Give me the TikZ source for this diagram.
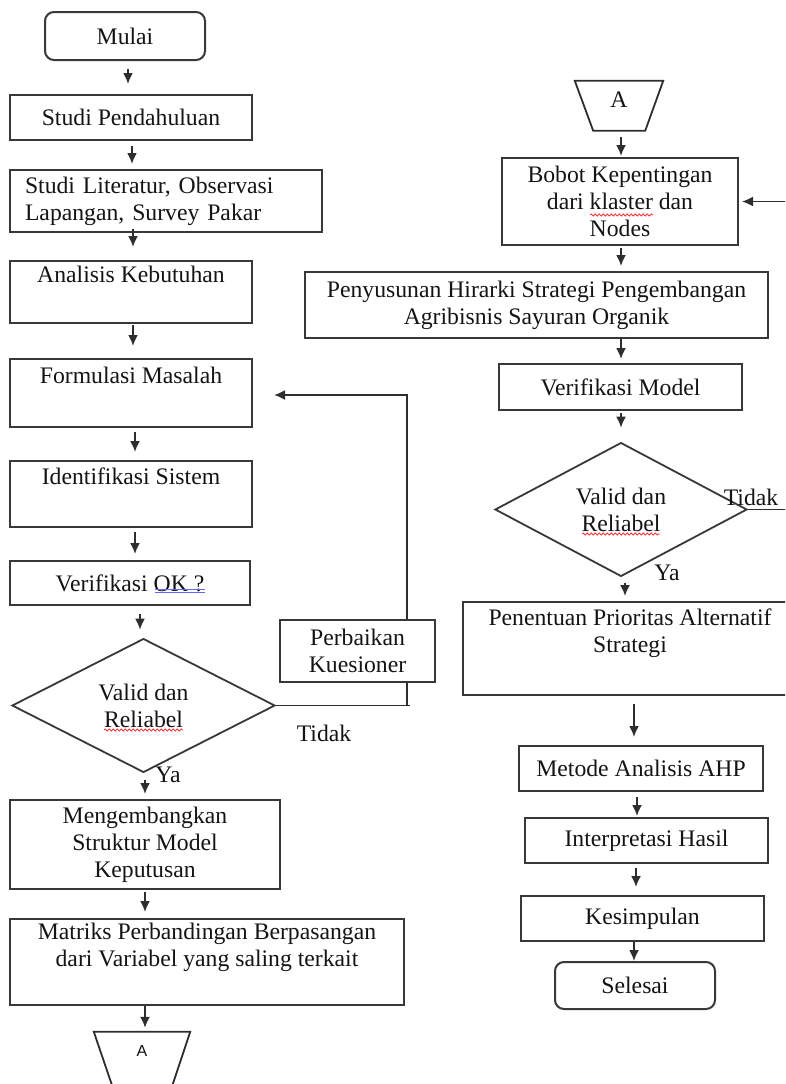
\documentclass[tikz,border=0pt]{standalone}
\usepackage{fontspec}
\setmainfont{Liberation Serif}
\newfontfamily\sansA{Liberation Sans}
\usetikzlibrary{shapes.geometric,arrows.meta,decorations.pathmorphing}
\begin{document}
\begin{tikzpicture}[x=1pt,y=-1pt,
 every node/.style={font=\fontsize{23.7}{27}\selectfont, text=black!92},
 box/.style={draw=black!78, line width=2pt, inner sep=0pt, align=center},
 rbox/.style={box, rounded corners=9pt},
 dia/.style={draw=black!78, line width=1.8pt, diamond, inner sep=0pt, align=center},
 arr/.style={draw=black!82, line width=1.8pt, -{Latex[length=11pt,width=10pt]}},
 ln/.style={draw=black!82, line width=1.8pt},
 lbl/.style={inner sep=0pt},
 wavy/.style={draw=red!80, line width=0.8pt, decorate, decoration={snake, amplitude=1pt, segment length=4pt}},
 dbl/.style={draw=blue!60, line width=0.8pt},
]
\useasboundingbox (0,0) rectangle (785,1084);
\clip (0,0) rectangle (785,1084);

% left column
\node[rbox, minimum width=160, minimum height=48] (mulai) at (125,36) {Mulai};
\node[box, minimum width=242, minimum height=45] (sp) at (131,117.5) {Studi Pendahuluan};
\node[box, minimum width=312, minimum height=62, text width=282, align=left, inner xsep=15pt] (sl) at (166,201) {Studi Literatur, Observasi\\Lapangan, Survey Pakar};
\node[box, minimum width=242, minimum height=62] (ak) at (131,292) {Analisis Kebutuhan\\\strut};
\node[box, minimum width=242, minimum height=68] (fm) at (131,393) {Formulasi Masalah\\\strut};
\node[box, minimum width=242, minimum height=66] (is) at (131,494) {Identifikasi Sistem\\\strut};
\node[box, minimum width=240, minimum height=44] (vok) at (130,583) {Verifikasi OK ?};
\node[dia, minimum width=263, minimum height=125] (d1) at (143.5,705.5) {Valid dan\\Reliabel};
\node[box, minimum width=155, minimum height=62] (pk) at (357.5,651) {Perbaikan\\Kuesioner};
\node[box, minimum width=270, minimum height=89] (mg) at (145,844.5) {Mengembangkan\\Struktur Model\\Keputusan};
\node[box, minimum width=394, minimum height=86] (mt) at (207,962) {Matriks Perbandingan Berpasangan\\dari Variabel yang saling terkait\\\strut};
\node[inner sep=0pt, minimum width=96, minimum height=38, font=\sansA\fontsize{16}{18}\selectfont] (A1) at (142,1051) {A};
\draw[ln] (A1.north west) -- (A1.north east) -- ++(-18,54) -- ++(-60,0) -- cycle;

% right column
\node[inner sep=0pt, minimum width=88, minimum height=38] (A2) at (619,100) {A};
\draw[ln] (A2.north west) -- (A2.north east) -- ++(-18,50) -- ++(-52,0) -- cycle;
\node[box, minimum width=236, minimum height=87] (bb) at (620,201.5) {Bobot Kepentingan\\dari klaster dan\\Nodes};
\node[box, minimum width=463, minimum height=66] (py) at (536.5,305) {Penyusunan Hirarki Strategi Pengembangan\\Agribisnis Sayuran Organik};
\node[box, minimum width=243, minimum height=46] (vm) at (620.5,387) {Verifikasi Model};
\node[dia, minimum width=252, minimum height=125] (d2) at (621,509.5) {Valid dan\\Reliabel};
\node[box, minimum width=334, minimum height=93] (pn) at (630,648.5) {Penentuan Prioritas Alternatif\\Strategi\\\strut};
\node[box, minimum width=244, minimum height=45] (ma) at (641,768.5) {Metode Analisis AHP};
\node[box, minimum width=243, minimum height=45] (ih) at (646.5,840.5) {Interpretasi Hasil};
\node[box, minimum width=243, minimum height=45] (ks) at (642.5,918.5) {Kesimpulan};
\node[rbox, minimum width=160, minimum height=47] (sel) at (635,985.5) {Selesai};

% labels
\node[lbl] (t1) at (324,733) {Tidak};
\node[lbl] (y1) at (168,775) {Ya};
\node[lbl] (t2) at (751,497) {Tidak};
\node[lbl] (y2) at (667,573) {Ya};

% left arrows
\draw[arr, shorten <=8pt, shorten >=10pt] ([xshift=3]mulai.south) -- ([xshift=3]mulai.south |- sp.north);
\draw[arr, shorten <=5pt, shorten >=5pt] ([xshift=1]sp.south) -- ([xshift=1]sp.south |- sl.north);
\draw[arr, shorten <=-4pt, shorten >=13pt] ([xshift=-33]sl.south) -- ([xshift=-33]sl.south |- ak.north);
\draw[arr, shorten <=1pt, shorten >=12pt] ([xshift=2]ak.south) -- ([xshift=2]ak.south |- fm.north);
\draw[arr, shorten <=4pt, shorten >=8pt] ([xshift=4]fm.south) -- ([xshift=4]fm.south |- is.north);
\draw[arr, shorten <=4pt, shorten >=6pt] ([xshift=4]is.south) -- ([xshift=4]is.south |- vok.north);
\draw[arr, shorten <=8pt, shorten >=8pt] ([xshift=10]vok.south) -- ([xshift=10]vok.south |- d1.north);
\draw[arr, shorten <=7pt, shorten >=5pt] ([xshift=1.5]d1.south) -- ([xshift=1.5]d1.south |- mg.north);
\draw[arr, shorten <=2pt, shorten >=6pt] (mg.south) -- (mg.south |- mt.north);
\draw[arr, shorten >=4pt] ([xshift=-62]mt.south) -- ([xshift=-62]mt.south |- A1.north);

% right arrows
\draw[arr, shorten >=1pt] ([xshift=2,yshift=-56]A2.north) -- ([xshift=2]A2.north |- bb.north);
\draw[arr, shorten <=2pt, shorten >=5pt] ([xshift=1]bb.south) -- ([xshift=1]bb.south |- py.north);
\draw[arr, shorten >=4pt] ([xshift=84.5]py.south) -- ([xshift=84.5]py.south |- vm.north);
\draw[arr, shorten <=2pt, shorten >=14pt] ([xshift=0.5]vm.south) -- ([xshift=0.5]vm.south |- d2.north);
\draw[arr, shorten <=6pt, shorten >=5pt] ([xshift=4]d2.south) -- ([xshift=4]d2.south |- pn.north);
\draw[arr, shorten <=8pt, shorten >=8pt] ([xshift=4]pn.south) -- ([xshift=4]pn.south |- ma.north);
\draw[arr, shorten <=5pt, shorten >=1pt] ([xshift=-4]ma.south) -- ([xshift=-4]ma.south |- ih.north);
\draw[arr, shorten <=4pt, shorten >=8pt] ([xshift=-10.5]ih.south) -- ([xshift=-10.5]ih.south |- ks.north);
\draw[arr] ([xshift=-8.5]ks.south) -- ([xshift=-8.5]ks.south |- sel.north);

% feedback loops
\coordinate (kx) at (407,0);
\coordinate (rx) at (800,0);
\draw[ln] (d1.east) -- ([xshift=3]d1.east -| kx);
\draw[ln] (pk.south -| kx) -- (d1.east -| kx);
\draw[arr] (pk.north -| kx) |- ([xshift=21,yshift=-2]fm.east);
\draw[arr] (d2.east) -- (d2.east -| rx) |- ([xshift=3]bb.east);

% spell-check marks
\draw[dbl] (155,589) -- (205,589) (155,592.5) -- (205,592.5);
\draw[wavy] (104,730) -- (183,730);
\draw[wavy] (582,534) -- (660,534);
\draw[wavy] (590,215) -- (653,215);
\end{tikzpicture}
\end{document}
